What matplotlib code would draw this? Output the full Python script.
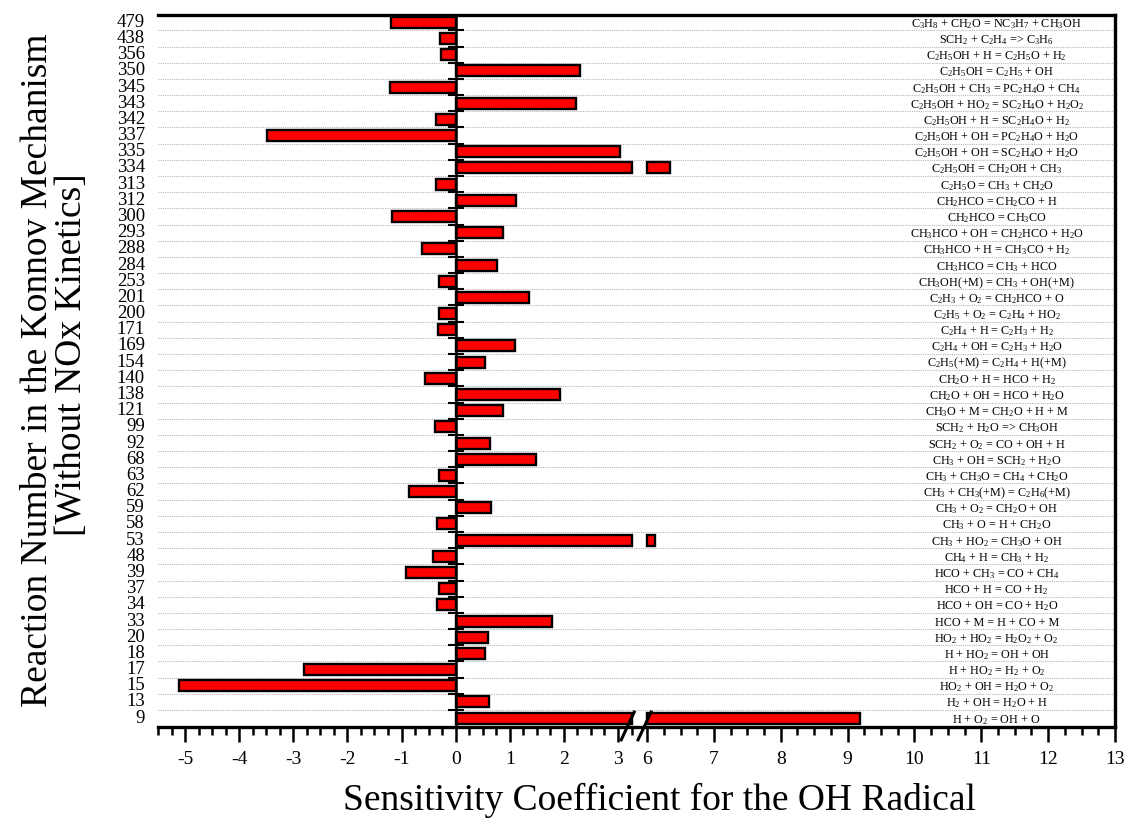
import re
import numpy as np
import matplotlib
matplotlib.use("Agg")
import matplotlib.pyplot as plt
from matplotlib.ticker import FixedLocator, NullFormatter
from matplotlib.transforms import blended_transform_factory

plt.rcParams['font.family'] = ['Liberation Serif', 'DejaVu Serif']
plt.rcParams['mathtext.fontset'] = 'custom'
plt.rcParams['mathtext.rm'] = 'Liberation Serif'
plt.rcParams['mathtext.it'] = 'Liberation Serif:italic'
plt.rcParams['mathtext.bf'] = 'Liberation Serif:bold'

# ---- data (top to bottom as in the chart) ----
reaction_numbers = ["479", "438", "356", "350", "345", "343", "342", "337", "335", "334",
                    "313", "312", "300", "293", "288", "284", "253", "201", "200", "171",
                    "169", "154", "140", "138", "121", "99", "92", "68", "63", "62",
                    "59", "58", "53", "48", "39", "37", "34", "33", "20", "18",
                    "17", "15", "13", "9"]
sensitivity = [-1.19, -0.28, -0.27, 2.30, -1.22, 2.22, -0.37, -3.48, 3.04, 6.34,
               -0.36, 1.11, -1.17, 0.88, -0.63, 0.76, -0.31, 1.35, -0.31, -0.32,
               1.09, 0.54, -0.56, 1.93, 0.87, -0.39, 0.63, 1.48, -0.30, -0.87,
               0.65, -0.35, 6.12, -0.41, -0.91, -0.31, -0.35, 1.78, 0.59, 0.54,
               -2.80, -5.11, 0.61, 9.18]
reactions = [
    "C3H8 + CH2O = NC3H7 + CH3OH",
    "SCH2 + C2H4 => C3H6",
    "C2H5OH + H = C2H5O + H2",
    "C2H5OH = C2H5 + OH",
    "C2H5OH + CH3 = PC2H4O + CH4",
    "C2H5OH + HO2 = SC2H4O + H2O2",
    "C2H5OH + H = SC2H4O + H2",
    "C2H5OH + OH = PC2H4O + H2O",
    "C2H5OH + OH = SC2H4O + H2O",
    "C2H5OH = CH2OH + CH3",
    "C2H5O = CH3 + CH2O",
    "CH2HCO = CH2CO + H",
    "CH2HCO = CH3CO",
    "CH3HCO + OH = CH2HCO + H2O",
    "CH3HCO + H = CH3CO + H2",
    "CH3HCO = CH3 + HCO",
    "CH3OH(+M) = CH3 + OH(+M)",
    "C2H3 + O2 = CH2HCO + O",
    "C2H5 + O2 = C2H4 + HO2",
    "C2H4 + H = C2H3 + H2",
    "C2H4 + OH = C2H3 + H2O",
    "C2H5(+M) = C2H4 + H(+M)",
    "CH2O + H = HCO + H2",
    "CH2O + OH = HCO + H2O",
    "CH3O + M = CH2O + H + M",
    "SCH2 + H2O => CH3OH",
    "SCH2 + O2 = CO + OH + H",
    "CH3 + OH = SCH2 + H2O",
    "CH3 + CH3O = CH4 + CH2O",
    "CH3 + CH3(+M) = C2H6(+M)",
    "CH3 + O2 = CH2O + OH",
    "CH3 + O = H + CH2O",
    "CH3 + HO2 = CH3O + OH",
    "CH4 + H = CH3 + H2",
    "HCO + CH3 = CO + CH4",
    "HCO + H = CO + H2",
    "HCO + OH = CO + H2O",
    "HCO + M = H + CO + M",
    "HO2 + HO2 = H2O2 + O2",
    "H + HO2 = OH + OH",
    "H + HO2 = H2 + O2",
    "HO2 + OH = H2O + O2",
    "H2 + OH = H2O + H",
    "H + O2 = OH + O",
]
major_ticks_left = [-5, -4, -3, -2, -1, 0, 1, 2, 3]
major_ticks_right = [6, 7, 8, 9, 10, 11, 12, 13]

# ---- broken-axis scale ----
XMIN, XMAX = -5.5, 13.0
B1, B2 = 3.3, 5.85          # axis break
K = 66.7 / 54.0             # right segment stretch
U2 = B1 + 0.052             # display units where right segment starts
BAR_CUT_L, BAR_CUT_R = 3.25, 6.0


def fwd(x):
    x = np.asarray(x, dtype=float)
    mid = B1 + (x - B1) * (U2 - B1) / (B2 - B1)
    return np.where(x <= B1, x, np.where(x >= B2, U2 + (x - B2) * K, mid))


def inv(u):
    u = np.asarray(u, dtype=float)
    mid = B1 + (u - B1) * (B2 - B1) / (U2 - B1)
    return np.where(u <= B1, u, np.where(u >= U2, B2 + (u - U2) / K, mid))


chem = lambda s: re.sub(r'(?<=[A-Za-z\)])(\d+)', r'$_{\1}$', s)

n = len(reaction_numbers)
ypos = np.arange(n)[::-1]   # top row highest

fig = plt.figure(figsize=(11.28, 8.19), dpi=100)
ax = fig.add_axes([158 / 1128, 1 - 727 / 819, (1115 - 158) / 1128, (727 - 15) / 819])
ax.set_xscale('function', functions=(fwd, inv))
ax.set_xlim(XMIN, XMAX)
ax.set_ylim(-0.55, n - 0.55)

bh = 0.68
for y, v in zip(ypos, sensitivity):
    if v > B1:
        ax.barh(y, BAR_CUT_L, height=bh, color='#ff0000', edgecolor='black', linewidth=1.7, zorder=3)
        ax.barh(y, v - BAR_CUT_R, left=BAR_CUT_R, height=bh, color='#ff0000',
                edgecolor='black', linewidth=1.7, zorder=3)
    else:
        ax.barh(y, v, height=bh, color='#ff0000', edgecolor='black', linewidth=1.7, zorder=3)

# spines
for s in ['top', 'right', 'bottom']:
    ax.spines[s].set_linewidth(2.4)
ax.spines['left'].set_position(('data', 0))
ax.spines['left'].set_linewidth(1.8)
ax.spines['left'].set_zorder(4)

# x ticks
majors = major_ticks_left + major_ticks_right
minors = [m for m in np.concatenate([np.arange(-5.5, 3.3, 0.25), np.arange(6.0, 13.01, 0.25)])
          if abs(m - round(m)) > 1e-6]
ax.xaxis.set_major_locator(FixedLocator(majors))
ax.xaxis.set_minor_locator(FixedLocator(minors))
ax.set_xticklabels([str(m) for m in majors])
ax.xaxis.set_minor_formatter(NullFormatter())
ax.tick_params(axis='x', which='major', direction='out', length=11, width=1.8, labelsize=14, pad=6)
ax.tick_params(axis='x', which='minor', direction='out', length=6, width=1.8)

# y ticks: gridline ticks on zero line, labels at left
ax.set_yticks([])
ax.yaxis.set_minor_locator(FixedLocator(np.arange(n - 1) + 0.5))
ax.tick_params(axis='y', which='minor', direction='inout', length=12, width=1.5)
ax.grid(which='minor', axis='y', linestyle=(0, (1, 1)), color='#b8b8b8', linewidth=0.8)
ax.set_axisbelow(True)

tr = blended_transform_factory(ax.transAxes, ax.transData)
for y, lab in zip(ypos, reaction_numbers):
    ax.text(-0.0136, y, lab, transform=tr, ha='right', va='center', fontsize=13.5)

for y, r in zip(ypos, reactions):
    ax.text(11.23, y - 0.1, chem(r), ha='center', va='center', fontsize=8.7, zorder=5)

# break marks
trb = blended_transform_factory(ax.transData, ax.transAxes)
for x0, x1 in [(3.06, 3.3), (5.865, 6.06)]:
    ax.plot([x0, x1], [-0.018, 0.021], color='black', lw=2.2, transform=trb,
            clip_on=False, zorder=6)

fig.text(659 / 1128, 1 - 800 / 819, "Sensitivity Coefficient for the OH Radical",
         ha='center', va='center', fontsize=27)
fig.text(38 / 1128, 1 - 370 / 819, "Reaction Number in the Konnov Mechanism",
         ha='center', va='center', rotation=90, fontsize=27)
fig.text(72 / 1128, 1 - 355 / 819, "[Without NOx Kinetics]",
         ha='center', va='center', rotation=90, fontsize=27)

fig.savefig("out.png", dpi=100)
